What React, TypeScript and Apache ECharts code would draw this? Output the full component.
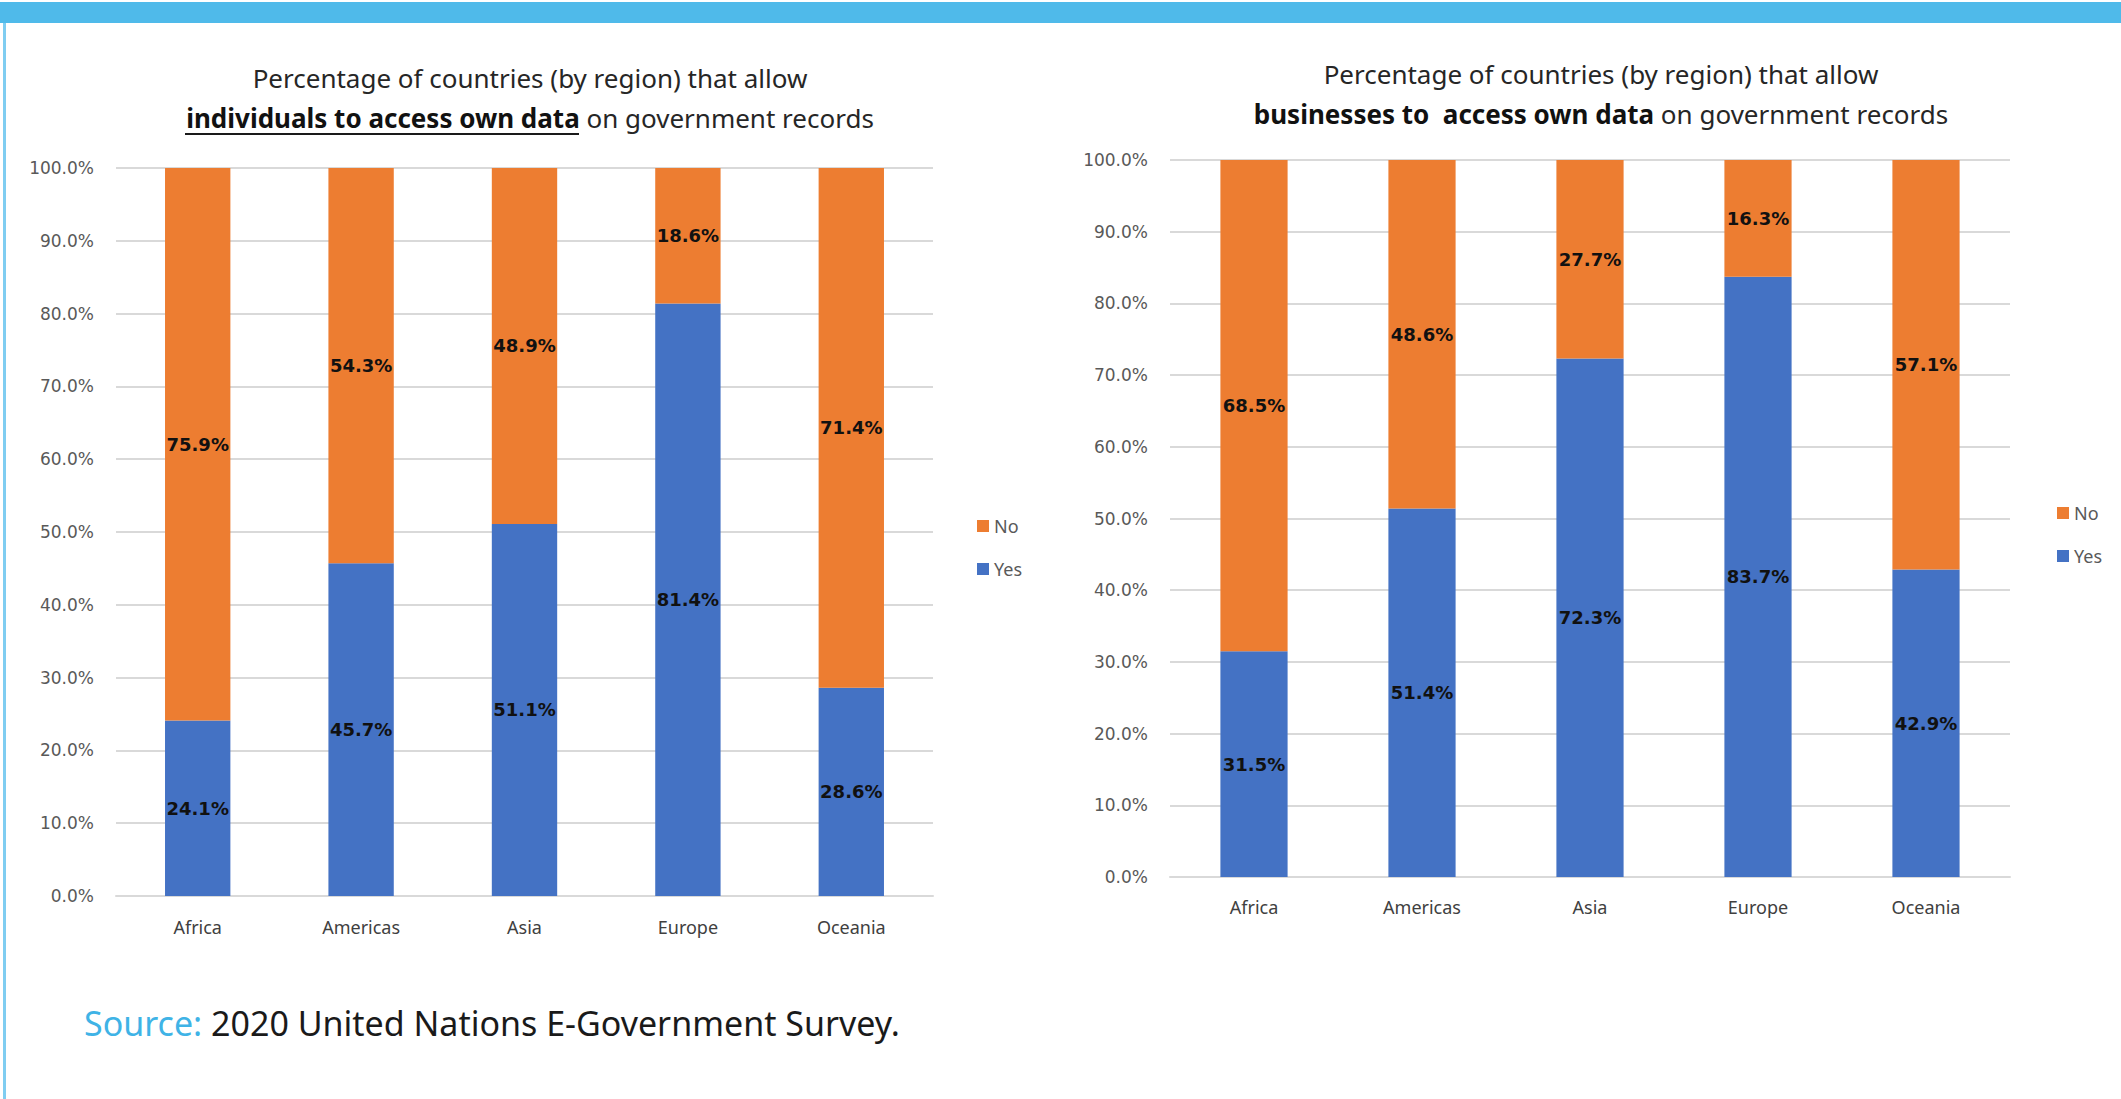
import React, { useEffect, useRef } from "react";
import * as echarts from "echarts";

const regions = ["Africa", "Americas", "Asia", "Europe", "Oceania"];
const individualsYes = [24.1, 45.7, 51.1, 81.4, 28.6];
const individualsNo = [75.9, 54.3, 48.9, 18.6, 71.4];
const businessesYes = [31.5, 51.4, 72.3, 83.7, 42.9];
const businessesNo = [68.5, 48.6, 27.7, 16.3, 57.1];
const legendItems = ["No", "Yes"];
const sourceLabel = "Source:";
const sourceText = " 2020 United Nations E-Government Survey.";

const BLUE = "#4472C4";
const ORANGE = "#ED7D31";
const GRID = "#d9d9d9";
const AXIS_TXT = "#595959";

export default function App() {
  const ref = useRef<HTMLDivElement>(null);
  useEffect(() => {
    if (!ref.current) return;
    const chart = echarts.init(ref.current, null, { renderer: "svg" });

    const titleRich = {
      n: { fontFamily: "Noto Sans", fontSize: 26, color: "#262626", fontWeight: "normal", lineHeight: 40 },
      b: { fontFamily: "Noto Sans", fontSize: 26, color: "#111111", fontWeight: "bold", lineHeight: 40 },
    };

    const yAxisBase = (gridIndex: number) => ({
      type: "value",
      gridIndex,
      min: 0,
      max: 100,
      interval: 10,
      axisLine: { show: false },
      axisTick: { show: false },
      splitLine: { lineStyle: { color: GRID, width: 2 } },
      axisLabel: {
        formatter: (v: number) => v.toFixed(1) + "%",
        color: AXIS_TXT,
        fontFamily: "DejaVu Sans",
        fontSize: 17,
        margin: 22,
      },
    });

    const xAxisBase = (gridIndex: number, margin: number) => ({
      type: "category",
      gridIndex,
      data: regions,
      axisLine: { lineStyle: { color: GRID, width: 2 } },
      axisTick: { show: false },
      axisLabel: {
        color: "#404040",
        fontFamily: "Noto Sans",
        fontSize: 18,
        margin,
      },
    });

    const labelCfg = {
      show: true,
      position: "inside",
      formatter: (p: any) => Number(p.value).toFixed(1) + "%",
      fontFamily: "DejaVu Sans",
      fontWeight: "bold",
      fontSize: 18,
      color: "#111111",
    };

    const bar = (name: string, data: number[], idx: number, stack: string, color: string) => ({
      name,
      type: "bar",
      xAxisIndex: idx,
      yAxisIndex: idx,
      stack,
      data,
      barWidth: "40%",
      itemStyle: { color },
      label: labelCfg,
    });

    const legendBase = {
      orient: "vertical",
      data: legendItems,
      itemWidth: 12,
      itemHeight: 12,
      itemGap: 23,
      icon: "rect",
      textStyle: { color: AXIS_TXT, fontFamily: "Noto Sans", fontSize: 18, lineHeight: 20 },
      selectedMode: false,
    };

    chart.setOption({
      animation: false,
      backgroundColor: "#ffffff",
      title: [
        {
          text: "{n|Percentage of countries (by region) that allow}\n{b|individuals to access own data}{n| on government records}",
          left: 525,
          top: 53,
          textAlign: "center",
          textStyle: { rich: titleRich, fontWeight: "normal" },
        },
        {
          text: "{n|Percentage of countries (by region) that allow}\n{b|businesses to  access own data}{n| on government records}",
          left: 1596,
          top: 49,
          textAlign: "center",
          textStyle: { rich: titleRich, fontWeight: "normal" },
        },
      ],
      legend: [
        { ...legendBase, left: 972, top: 511 },
        { ...legendBase, left: 2052, top: 498 },
      ],
      grid: [
        { left: 116, top: 168, width: 817, height: 728, containLabel: false },
        { left: 1170, top: 160, width: 840, height: 717, containLabel: false },
      ],
      xAxis: [xAxisBase(0, 22), xAxisBase(1, 21)],
      yAxis: [yAxisBase(0), yAxisBase(1)],
      series: [
        bar("Yes", individualsYes, 0, "L", BLUE),
        bar("No", individualsNo, 0, "L", ORANGE),
        bar("Yes", businessesYes, 1, "R", BLUE),
        bar("No", businessesNo, 1, "R", ORANGE),
      ],
      graphic: [
        { type: "rect", shape: { x: 0, y: 2, width: 2121, height: 21 }, style: { fill: "#4FBAEA" }, silent: true },
        { type: "rect", shape: { x: 3, y: 23, width: 3, height: 1076 }, style: { fill: "#7FCDF1" }, silent: true },
        { type: "line", shape: { x1: 185, y1: 134, x2: 579, y2: 134 }, style: { stroke: "#1a1a1a", lineWidth: 2 }, silent: true },
        {
          type: "text",
          x: 84,
          y: 1023,
          style: {
            text: "{s|" + sourceLabel + "}{t|" + sourceText + "}",
            verticalAlign: "middle",
            rich: {
              s: { fontFamily: "Noto Sans", fontSize: 34, fill: "#3FB3E6" },
              t: { fontFamily: "Noto Sans", fontSize: 34, fill: "#1a1a1a" },
            },
          },
        },
      ],
    });

    return () => chart.dispose();
  }, []);

  return (
    <div
      ref={ref}
      style={{ position: "fixed", left: 0, top: 0, width: 2121, height: 1099, background: "#fff" }}
    />
  );
}
